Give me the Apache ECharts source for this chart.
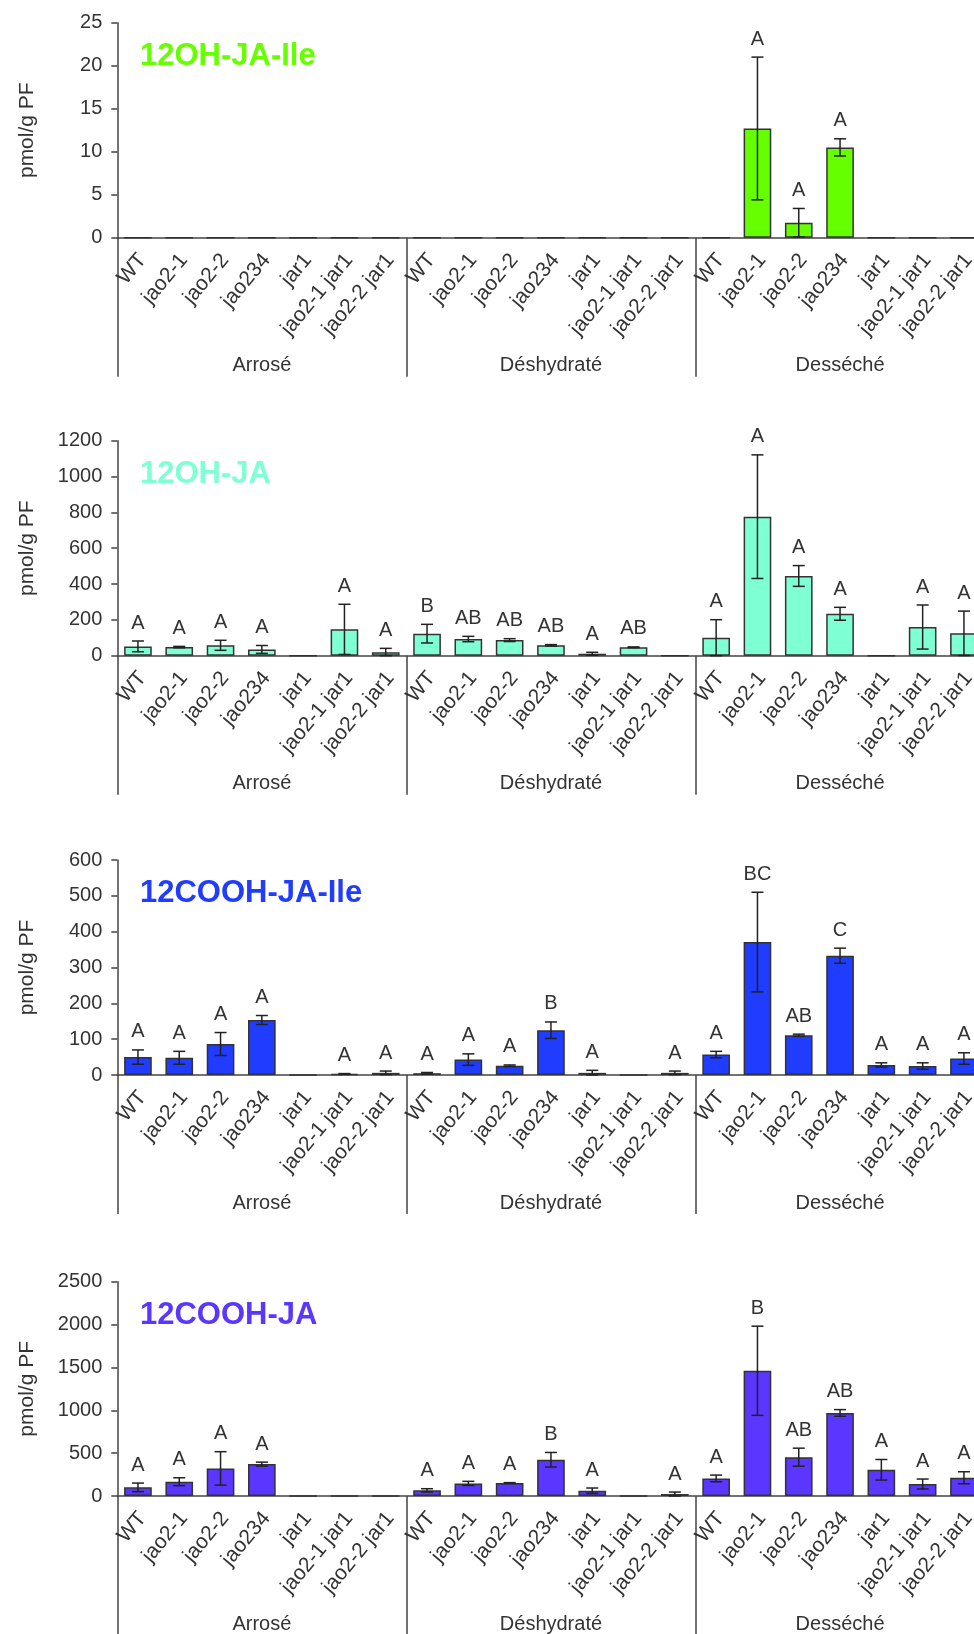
<!DOCTYPE html>
<html><head><meta charset="utf-8">
<script src="https://cdn.jsdelivr.net/npm/echarts@6/dist/echarts.min.js"></script>
<style>html,body{margin:0;padding:0;background:#fff;overflow:hidden}#c{width:990px;height:1634px}</style>
</head><body><div id="c"></div>
<script>
// ---- data ----
const genotypes = ['WT', 'jao2-1', 'jao2-2', 'jao234', 'jar1', 'jao2-1 jar1', 'jao2-2 jar1'];
const conditions = ['Arrosé', 'Déshydraté', 'Desséché'];
const panelTitles = ['12OH-JA-Ile', '12OH-JA', '12COOH-JA-Ile', '12COOH-JA'];
const yAxisName = 'pmol/g PF';
const yMax = [25, 1200, 600, 2500];
const yStep = [5, 200, 100, 500];

// order: Arrosé (7), Déshydraté (7), Desséché (7)
const mean12OHJAIle = [0, 0, 0, 0, 0, 0, 0,  0, 0, 0, 0, 0, 0, 0,  0, 12.7, 1.75, 10.5, 0, 0, 0];
const err12OHJAIle  = [0, 0, 0, 0, 0, 0, 0,  0, 0, 0, 0, 0, 0, 0,  0, 8.3, 1.65, 1.0, 0, 0, 0];
const letters12OHJAIle = ['', '', '', '', '', '', '',  '', '', '', '', '', '', '',  '', 'A', 'A', 'A', '', '', ''];

const mean12OHJA = [52, 48, 58, 35, 0, 147, 19,  123, 93, 87, 58, 11, 47, 0,  100, 776, 445, 234, 0, 160, 125];
const err12OHJA  = [30, 4, 28, 22, 0, 140, 22,  52, 15, 8, 4, 8, 2, 0,  101, 345, 58, 36, 0, 123, 124];
const letters12OHJA = ['A', 'A', 'A', 'A', '', 'A', 'A',  'B', 'AB', 'AB', 'AB', 'A', 'AB', '',  'A', 'A', 'A', 'A', '', 'A', 'A'];

const mean12COOHJAIle = [50, 48, 86.5, 153.5, 0, 3, 6,  5, 43, 26, 125, 6, 0, 6,  57, 371, 111, 333, 28, 25, 46];
const err12COOHJAIle  = [20, 18, 32, 12.5, 0, 1, 5,  2, 16, 2, 23, 7, 0, 5,  9, 139, 3, 21, 6, 9, 16];
const letters12COOHJAIle = ['A', 'A', 'A', 'A', '', 'A', 'A',  'A', 'A', 'A', 'B', 'A', '', 'A',  'A', 'BC', 'AB', 'C', 'A', 'A', 'A'];

const mean12COOHJA = [101, 167, 322, 372, 0, 0, 0,  66, 147, 151, 423, 62, 0, 23,  205, 1461, 453, 969, 306, 140, 213];
const err12COOHJA  = [50, 46, 195, 23, 0, 0, 0,  19, 24, 5, 85, 31, 0, 23,  39, 520, 105, 39, 120, 58, 70];
const letters12COOHJA = ['A', 'A', 'A', 'A', '', '', '',  'A', 'A', 'A', 'B', 'A', '', 'A',  'A', 'B', 'AB', 'AB', 'A', 'A', 'A'];

// ---- layout / style ----
const means = [mean12OHJAIle, mean12OHJA, mean12COOHJAIle, mean12COOHJA];
const errs = [err12OHJAIle, err12OHJA, err12COOHJAIle, err12COOHJA];
const letters = [letters12OHJAIle, letters12OHJA, letters12COOHJAIle, letters12COOHJA];
const colors = ['#66ff00', '#7fffd4', '#1f3cff', '#5b36ff'];
const tops = [22.7, 440.7, 860, 1281.7];
const FONT = '"Liberation Sans", Arial, Helvetica, sans-serif';
const AX = '#444';
const TXT = '#333';

const categories = conditions.flatMap(() => genotypes);

const option = {
  animation: false,
  textStyle: { fontFamily: FONT },
  title: [], grid: [], xAxis: [], yAxis: [], series: []
};

for (let i = 0; i < 4; i++) {
  option.title.push({
    text: panelTitles[i], left: 140, top: tops[i] + 18, padding: 0,
    textStyle: { fontSize: 31, fontWeight: 'bold', color: colors[i], fontFamily: FONT }
  });
  option.grid.push({ left: 117.3, top: tops[i], width: 867.3, height: 215 });
  option.xAxis.push({
    type: 'category', gridIndex: i, data: categories, position: 'bottom',
    axisLine: { show: true, lineStyle: { color: AX, width: 1.5 } },
    axisTick: { show: false },
    axisLabel: { interval: 0, rotate: 50, margin: 15, verticalAlign: 'top', lineHeight: 12, fontSize: 21, color: TXT, fontFamily: FONT }
  });
  option.xAxis.push({
    type: 'category', gridIndex: i, data: conditions, position: 'bottom',
    axisLine: { show: false },
    axisTick: { show: true, length: 139, lineStyle: { color: AX, width: 1.5 } },
    axisLabel: { margin: 118, fontSize: 20, color: TXT, fontFamily: FONT }
  });
  option.yAxis.push({
    type: 'value', gridIndex: i, min: 0, max: yMax[i], interval: yStep[i],
    axisLine: { show: true, lineStyle: { color: AX, width: 1.5 } },
    axisTick: { show: true, length: 6, lineStyle: { color: AX, width: 1.5 } },
    splitLine: { show: false },
    axisLabel: { fontSize: 20, color: TXT, margin: 15, fontFamily: FONT, formatter: v => String(v) },
    name: yAxisName, nameLocation: 'middle', nameGap: 80,
    nameTextStyle: { fontSize: 21, color: TXT, fontFamily: FONT }
  });
  option.series.push({
    type: 'bar', xAxisIndex: 2 * i, yAxisIndex: i, data: means[i], barWidth: '67%',
    itemStyle: { color: colors[i], borderColor: '#333', borderWidth: 1.5 }
  });
  const lt = letters[i];
  option.series.push({
    type: 'custom', xAxisIndex: 2 * i, yAxisIndex: i, z: 5,
    data: means[i].map((m, k) => [k, m, errs[i][k]]),
    encode: { x: 0, y: 1 },
    renderItem: function (params, api) {
      const k = api.value(0), m = api.value(1), e = api.value(2);
      const top = api.coord([k, m + e]);
      const bot = api.coord([k, Math.max(0, m - e)]);
      const hw = 6;
      const ls = { stroke: '#222', lineWidth: 1.5 };
      const children = [];
      if (e > 0) {
        children.push({ type: 'line', shape: { x1: top[0], y1: top[1], x2: bot[0], y2: bot[1] }, style: ls });
        children.push({ type: 'line', shape: { x1: top[0] - hw, y1: top[1], x2: top[0] + hw, y2: top[1] }, style: ls });
        children.push({ type: 'line', shape: { x1: bot[0] - hw, y1: bot[1], x2: bot[0] + hw, y2: bot[1] }, style: ls });
      }
      const t = lt[params.dataIndex];
      if (t) {
        children.push({ type: 'text', style: { text: t, x: top[0], y: top[1] - 8, align: 'center', verticalAlign: 'bottom', fontSize: 20, fontFamily: FONT, fill: TXT } });
      }
      return { type: 'group', children: children };
    }
  });
}

const chart = echarts.init(document.getElementById('c'), null, { renderer: 'canvas' });
chart.setOption(option);
</script>
</body></html>
